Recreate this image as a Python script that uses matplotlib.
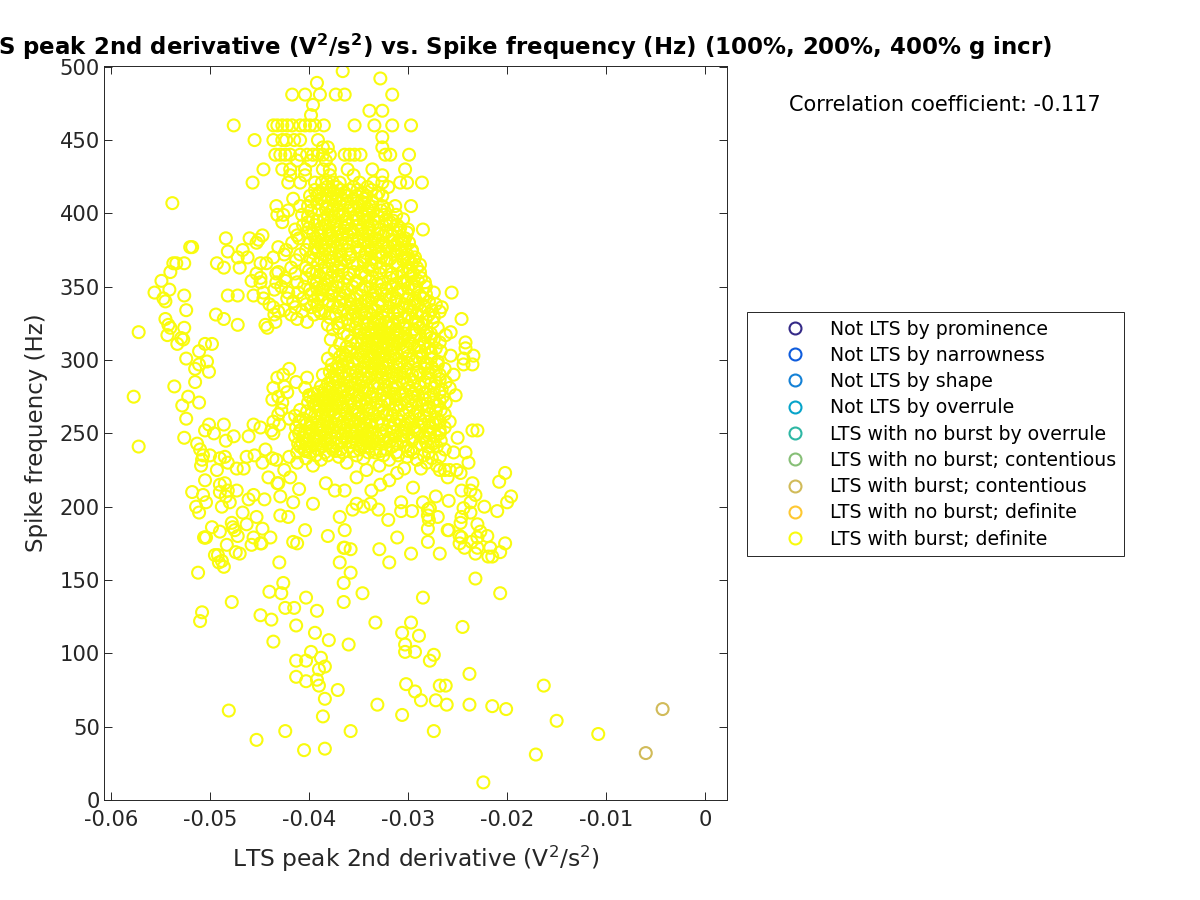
import matplotlib
matplotlib.use("Agg")
import matplotlib.pyplot as plt
from matplotlib.lines import Line2D

plt.rcParams['mathtext.fontset'] = 'dejavusans'
plt.rcParams['mathtext.default'] = 'regular'

class_labels = ['Not LTS by prominence', 'Not LTS by narrowness', 'Not LTS by shape',
                'Not LTS by overrule', 'LTS with no burst by overrule',
                'LTS with no burst; contentious', 'LTS with burst; contentious',
                'LTS with no burst; definite', 'LTS with burst; definite']
class_colors = ['#352a87', '#0f5cdd', '#1481d6', '#06a4ca', '#2eb7a4',
                '#87bf77', '#d1bb59', '#fec832', '#f9fb0e']

contentious_deriv = [-0.0043, -0.0060]
contentious_freq = [62, 32]

# (spike frequency, peak 2nd derivatives at that frequency)
low_rows = [
    (12, [-.0224]), (31, [-.0171]), (34, [-.0405]), (35, [-.0384]), (41, [-.0453]), (45, [-.0108]),
    (47, [-.0424, -.0358, -.0274]), (54, [-.0150]), (57, [-.0386]), (58, [-.0306]), (61, [-.0481]),
    (62, [-.0201]), (64, [-.0215]), (65, [-.0331, -.0261, -.0238]), (68, [-.0287, -.0272]),
    (69, [-.0384]), (74, [-.0293]), (75, [-.0371]), (78, [-.0390, -.0268, -.0262, -.0163]),
    (79, [-.0302]), (81, [-.0403]), (82, [-.0392]), (84, [-.0413]), (86, [-.0238]), (89, [-.0390]),
    (91, [-.0384]), (95, [-.0413, -.0403, -.0278]), (97, [-.0388]), (99, [-.0274]),
    (101, [-.0398, -.0303, -.0293]), (106, [-.0360, -.0303]), (108, [-.0436]), (109, [-.0380]),
    (112, [-.0289]), (114, [-.0394, -.0306]), (118, [-.0245]), (119, [-.0413]), (121, [-.0333, -.0297]),
    (122, [-.0510]), (123, [-.0438]), (126, [-.0449]), (128, [-.0508]), (129, [-.0392]),
    (131, [-.0424, -.0415]), (135, [-.0478, -.0365]), (138, [-.0403, -.0285]),
    (141, [-.0428, -.0346, -.0207]), (142, [-.0440]), (148, [-.0426, -.0365]), (151, [-.0232]),
    (155, [-.0512, -.0358]),
]
mid_rows = [
    (159, [-.0486]), (162, [-.0491, -.0430, -.0369, -.0319]), (163, [-.0488]), (166, [-.0219, -.0215]),
    (167, [-.0495, -.0492]), (168, [-.0470, -.0297, -.0268, -.0232]), (169, [-.0474, -.0207]),
    (171, [-.0329, -.0358]), (172, [-.0365, -.0364, -.0243, -.0230, -.0217]), (174, [-.0458, -.0483]),
    (175, [-.0448, -.0449, -.0412, -.0248, -.0202]), (176, [-.0416, -.0280, -.0236]),
    (179, [-.0506, -.0505, -.0504, -.0456, -.0439, -.0311, -.0230, -.0246]),
    (180, [-.0472, -.0381, -.0220, -.0248]), (183, [-.0490, -.0227]),
    (184, [-.0475, -.0404, -.0364, -.0259, -.0260]), (185, [-.0447, -.0280]), (186, [-.0498, -.0477]),
    (188, [-.0230, -.0463]), (189, [-.0478, -.0247]), (191, [-.0320, -.0279]),
    (193, [-.0453, -.0421, -.0369, -.0270, -.0246]), (194, [-.0429, -.0280]),
    (196, [-.0467, -.0511, -.0237]), (197, [-.0307, -.0296, -.0210]), (198, [-.0356, -.0330, -.0280]),
    (199, [-.0278, -.0244]), (200, [-.0514, -.0488, -.0345, -.0223]), (202, [-.0396, -.0352, -.0338]),
    (203, [-.0504, -.0480, -.0416, -.0307, -.0285, -.0237, -.0200]), (204, [-.0259]),
    (205, [-.0461, -.0445]), (207, [-.0484, -.0429, -.0272, -.0196]), (208, [-.0507, -.0456, -.0232]),
    (210, [-.0518, -.0490]), (211, [-.0482, -.0473, -.0374, -.0364, -.0337, -.0246, -.0237]),
    (212, [-.0410]), (213, [-.0295]), (215, [-.0490, -.0328]),
    (216, [-.0485, -.0432, -.0431, -.0383, -.0235]), (217, [-.0208]), (218, [-.0505, -.0319]),
    (220, [-.0441, -.0419, -.0260, -.0352]), (223, [-.0202, -.0247, -.0311]),
    (225, [-.0493, -.0268, -.0263, -.0258, -.0251, -.0425, -.0342]),
    (226, [-.0473, -.0466, -.0304, -.0287]), (228, [-.0509, -.0396, -.0329, -.0271]),
    (230, [-.0482, -.0447, -.0412, -.0362, -.0239, -.0281]),
    (232, [-.0508, -.0433, -.0388, -.0319, -.0291]), (233, [-.0490, -.0437, -.0403, -.0345, -.0276]),
    (234, [-.0485, -.0463, -.0420, -.0370, -.0301, -.0268]),
]
core_rows = [
    (235, [-.0507, -.0500, -.0455, -.0393, -.0352, -.0325, -.0381, -.0310, -.0284]),
    (237, [-.0254, -.0242, -.0412, -.0384, -.0340, -.0312, -.0279, -.0399, -.0366, -.0333, -.0295]),
    (239, [-.0510, -.0444, -.0405, -.0368, -.0333, -.0297, -.0263, -.0391, -.0376, -.0349, -.0322]),
    (241, [-.0572, -.0398, -.0378, -.0359, -.0348, -.0302, -.0280, -.0271, -.0409, -.0387, -.0339, -.0316]),
    (243, [-.0513, -.0411, -.0396, -.0388, -.0345, -.0338, -.0330, -.0311, -.0288, -.0403, -.0381, -.0372, -.0352, -.0275]),
    (245, [-.0484, -.0402, -.0390, -.0352, -.0336, -.0325, -.0305, -.0274, -.0267, -.0394, -.0383, -.0343, -.0318, -.0296]),
    (247, [-.0526, -.0406, -.0395, -.0384, -.0378, -.0372, -.0346, -.0339, -.0319, -.0296, -.0250, -.0362, -.0331, -.0284]),
    (248, [-.0476, -.0461, -.0414, -.0392, -.0366, -.0357, -.0348, -.0341, -.0313, -.0283, -.0272, -.0400, -.0325, -.0305]),
    (250, [-.0496, -.0436, -.0410, -.0399, -.0383, -.0363, -.0354, -.0327, -.0300, -.0289, -.0278, -.0371, -.0336, -.0268]),
    (252, [-.0505, -.0438, -.0409, -.0389, -.0376, -.0352, -.0345, -.0322, -.0307, -.0268, -.0235, -.0230, -.0397, -.0364, -.0293, -.0280]),
    (254, [-.0449, -.0413, -.0399, -.0381, -.0368, -.0358, -.0336, -.0316, -.0294, -.0277, -.0263, -.0392, -.0345, -.0303]),
    (256, [-.0501, -.0486, -.0456, -.0430, -.0403, -.0387, -.0373, -.0361, -.0349, -.0326, -.0303, -.0284, -.0272, -.0338, -.0313]),
    (258, [-.0436, -.0410, -.0392, -.0378, -.0366, -.0353, -.0338, -.0319, -.0296, -.0279, -.0268, -.0258, -.0357, -.0308]),
    (260, [-.0524, -.0420, -.0406, -.0384, -.0372, -.0359, -.0343, -.0329, -.0311, -.0288, -.0271, -.0350, -.0299]),
    (263, [-.0431, -.0398, -.0381, -.0369, -.0350, -.0335, -.0322, -.0305, -.0293, -.0263, -.0362, -.0388, -.0278]),
    (266, [-.0428, -.0409, -.0390, -.0376, -.0356, -.0340, -.0315, -.0299, -.0281, -.0267, -.0365, -.0384, -.0330]),
    (269, [-.0528, -.0395, -.0383, -.0372, -.0361, -.0347, -.0327, -.0308, -.0286, -.0270, -.0389, -.0377, -.0296]),
    (271, [-.0511, -.0427, -.0401, -.0386, -.0374, -.0354, -.0332, -.0318, -.0292, -.0275, -.0262, -.0380, -.0368, -.0342]),
    (273, [-.0437, -.0392, -.0380, -.0369, -.0342, -.0321, -.0304, -.0283, -.0386, -.0372, -.0312]),
    (275, [-.0522, -.0577, -.0431, -.0399, -.0383, -.0364, -.0337, -.0313, -.0296, -.0278, -.0265, -.0376, -.0350]),
    (276, [-.0252, -.0400, -.0373, -.0350, -.0327, -.0290, -.0386, -.0307]),
    (278, [-.0422, -.0391, -.0366, -.0344, -.0319, -.0306, -.0283, -.0268, -.0380, -.0357]),
    (281, [-.0436, -.0404, -.0379, -.0357, -.0330, -.0299, -.0274, -.0258, -.0370, -.0345, -.0315]),
    (282, [-.0536, -.0425, -.0388, -.0362, -.0335, -.0312, -.0288, -.0376, -.0349, -.0322]),
    (285, [-.0515, -.0413, -.0371, -.0345, -.0324, -.0294, -.0272, -.0262, -.0358, -.0306, -.0283]),
    (288, [-.0432, -.0402, -.0377, -.0351, -.0326, -.0305, -.0280, -.0365, -.0340, -.0315]),
    (290, [-.0254, -.0426, -.0386, -.0359, -.0331, -.0296, -.0268, -.0372, -.0345, -.0312, -.0288]),
    (292, [-.0501, -.0379, -.0365, -.0341, -.0317, -.0290, -.0272, -.0352, -.0329, -.0303]),
    (294, [-.0515, -.0420, -.0372, -.0347, -.0328, -.0301, -.0263, -.0358, -.0336, -.0283]),
    (297, [-.0511, -.0377, -.0355, -.0333, -.0309, -.0283, -.0235, -.0244, -.0366, -.0320, -.0270]),
    (299, [-.0503, -.0367, -.0343, -.0320, -.0293, -.0270, -.0356, -.0331, -.0306]),
    (301, [-.0524, -.0381, -.0352, -.0329, -.0312, -.0277, -.0244, -.0363, -.0340, -.0296]),
    (303, [-.0234, -.0363, -.0337, -.0324, -.0299, -.0257, -.0348, -.0314, -.0286]),
    (306, [-.0511, -.0374, -.0346, -.0318, -.0287, -.0267, -.0358, -.0332, -.0305]),
    (308, [-.0242, -.0358, -.0331, -.0315, -.0294, -.0272, -.0344, -.0322, -.0280]),
    (311, [-.0505, -.0498, -.0533, -.0369, -.0341, -.0325, -.0308, -.0283, -.0352, -.0332, -.0316, -.0296]),
    (312, [-.0242, -.0352, -.0322, -.0298, -.0268, -.0336, -.0310, -.0284]),
    (314, [-.0527, -.0378, -.0336, -.0328, -.0287, -.0345, -.0319, -.0305, -.0274]),
    (315, [-.0529, -.0347, -.0331, -.0318, -.0304, -.0277, -.0340, -.0325, -.0311]),
    (317, [-.0543, -.0361, -.0327, -.0312, -.0262, -.0338, -.0320, -.0294, -.0282]),
    (319, [-.0572, -.0257, -.0340, -.0324, -.0296, -.0281, -.0349, -.0332, -.0310]),
    (322, [-.0540, -.0526, -.0353, -.0335, -.0318, -.0270, -.0303, -.0288, -.0370, -.0442]),
    (324, [-.0542, -.0472, -.0444, -.0328, -.0304, -.0285, -.0360, -.0341, -.0315, -.0381]),
    (326, [-.0402, -.0344, -.0322, -.0292, -.0275, -.0434, -.0331, -.0309, -.0367]),
    (328, [-.0545, -.0486, -.0412, -.0361, -.0330, -.0311, -.0246, -.0296, -.0351, -.0282]),
    (331, [-.0494, -.0418, -.0338, -.0300, -.0279, -.0435, -.0373, -.0356, -.0320, -.0395]),
    (333, [-.0431, -.0407, -.0354, -.0325, -.0286, -.0268, -.0384, -.0342, -.0310]),
    (334, [-.0524, -.0425, -.0346, -.0311, -.0296, -.0390, -.0365, -.0333, -.0276]),
    (336, [-.0266, -.0414, -.0371, -.0337, -.0319, -.0283, -.0398, -.0358, -.0305, -.0436]),
    (338, [-.0440, -.0403, -.0358, -.0304, -.0272, -.0380, -.0348, -.0326, -.0290]),
    (340, [-.0545, -.0416, -.0380, -.0329, -.0293, -.0395, -.0369, -.0343, -.0312, -.0279]),
    (342, [-.0547, -.0446, -.0406, -.0366, -.0312, -.0285, -.0354, -.0336, -.0301, -.0422]),
    (344, [-.0526, -.0482, -.0472, -.0456, -.0391, -.0348, -.0322, -.0299, -.0377, -.0335, -.0288]),
    (346, [-.0556, -.0446, -.0421, -.0377, -.0333, -.0274, -.0256, -.0411, -.0364, -.0310]),
    (348, [-.0541, -.0435, -.0399, -.0361, -.0308, -.0386, -.0347, -.0327, -.0294]),
    (350, [-.0428, -.0386, -.0344, -.0317, -.0292, -.0372, -.0356, -.0405, -.0282]),
    (353, [-.0433, -.0412, -.0371, -.0326, -.0283, -.0449, -.0392, -.0352, -.0305]),
    (354, [-.0549, -.0458, -.0395, -.0352, -.0304, -.0424, -.0381, -.0339, -.0290]),
    (356, [-.0449, -.0424, -.0378, -.0336, -.0287, -.0403, -.0361, -.0318]),
    (359, [-.0453, -.0414, -.0383, -.0360, -.0316, -.0295, -.0397, -.0347, -.0329, -.0433]),
    (360, [-.0540, -.0431, -.0392, -.0347, -.0306, -.0376, -.0355, -.0288]),
    (363, [-.0486, -.0470, -.0403, -.0370, -.0328, -.0291, -.0418, -.0384, -.0340, -.0300]),
    (366, [-.0534, -.0526, -.0537, -.0493, -.0443, -.0449, -.0356, -.0313, -.0391, -.0368, -.0332, -.0296]),
    (368, [-.0396, -.0364, -.0322, -.0294, -.0413, -.0380, -.0345, -.0305]),
    (370, [-.0472, -.0462, -.0436, -.0377, -.0344, -.0305, -.0399, -.0359, -.0327, -.0293]),
    (372, [-.0409, -.0358, -.0330, -.0301, -.0425, -.0386, -.0368, -.0314]),
    (374, [-.0482, -.0391, -.0369, -.0312, -.0349, -.0337, -.0322, -.0296]),
    (375, [-.0467, -.0423, -.0384, -.0338, -.0296, -.0403, -.0361, -.0307, -.0376]),
    (377, [-.0518, -.0520, -.0431, -.0373, -.0352, -.0320, -.0394, -.0332, -.0303]),
    (380, [-.0453, -.0400, -.0362, -.0325, -.0382, -.0344, -.0311, -.0417, -.0299]),
    (382, [-.0451, -.0386, -.0345, -.0307, -.0371, -.0356, -.0330, -.0316]),
    (383, [-.0484, -.0460, -.0394, -.0366, -.0333, -.0410, -.0378, -.0350, -.0303]),
    (385, [-.0447, -.0412, -.0378, -.0340, -.0316, -.0388, -.0361, -.0325]),
    (387, [-.0388, -.0355, -.0322, -.0301, -.0402, -.0371, -.0340, -.0309]),
    (389, [-.0414, -.0300, -.0285, -.0372, -.0347, -.0329, -.0380, -.0358, -.0315]),
    (392, [-.0406, -.0384, -.0361, -.0311, -.0394, -.0372, -.0350, -.0336, -.0322]),
    (394, [-.0427, -.0375, -.0341, -.0318, -.0401, -.0363, -.0330]),
    (396, [-.0396, -.0363, -.0335, -.0305, -.0385, -.0350, -.0322]),
    (399, [-.0432, -.0426, -.0381, -.0352, -.0324, -.0407, -.0370, -.0340, -.0312]),
    (402, [-.0421, -.0390, -.0370, -.0347, -.0398, -.0360, -.0335, -.0327]),
    (405, [-.0433, -.0409, -.0401, -.0382, -.0375, -.0357, -.0349, -.0339, -.0326, -.0313, -.0297]),
    (407, [-.0538, -.0369, -.0362, -.0344, -.0392, -.0352]),
    (410, [-.0416, -.0388, -.0355, -.0367, -.0344, -.0377]),
    (412, [-.0399, -.0392, -.0382, -.0372, -.0362, -.0352, -.0342, -.0332, -.0326]),
    (416, [-.0386, -.0368, -.0351, -.0337, -.0394, -.0378, -.0359]),
]
# second pass over the solid parts of the cloud
dense_rows = [
    (238, [-.0404, -.0373, -.0355, -.0328, -.0300]), (244, [-.0407, -.0367, -.0357, -.0322, -.0282]),
    (251, [-.0404, -.0386, -.0358, -.0341, -.0315, -.0291]), (257, [-.0397, -.0381, -.0344, -.0331, -.0300, -.0275]),
    (262, [-.0414, -.0394, -.0375, -.0346, -.0316, -.0284]), (265, [-.0402, -.0379, -.0353, -.0325, -.0290, -.0272]),
    (268, [-.0393, -.0366, -.0338, -.0312, -.0279]), (272, [-.0396, -.0358, -.0349, -.0324, -.0300, -.0268]),
    (277, [-.0395, -.0360, -.0336, -.0314, -.0295, -.0274]), (280, [-.0384, -.0365, -.0340, -.0325, -.0292, -.0266]),
    (284, [-.0381, -.0353, -.0331, -.0301, -.0277]), (287, [-.0373, -.0347, -.0320, -.0297, -.0268]),
    (291, [-.0367, -.0337, -.0322, -.0308, -.0280]), (295, [-.0370, -.0344, -.0325, -.0311, -.0276]),
    (298, [-.0361, -.0340, -.0326, -.0300, -.0281]), (302, [-.0369, -.0345, -.0334, -.0318, -.0291]),
    (305, [-.0366, -.0351, -.0327, -.0312, -.0277]), (309, [-.0362, -.0337, -.0326, -.0302, -.0289]),
    (313, [-.0358, -.0341, -.0330, -.0315, -.0300]), (318, [-.0365, -.0344, -.0326, -.0303, -.0277]),
    (321, [-.0376, -.0348, -.0328, -.0312, -.0294]), (325, [-.0371, -.0352, -.0335, -.0320, -.0290]),
    (329, [-.0379, -.0343, -.0325, -.0304, -.0274]), (332, [-.0388, -.0361, -.0347, -.0315, -.0291]),
    (337, [-.0392, -.0376, -.0352, -.0330, -.0298]), (341, [-.0386, -.0358, -.0340, -.0318, -.0295]),
    (345, [-.0398, -.0369, -.0352, -.0316, -.0282]), (349, [-.0392, -.0378, -.0338, -.0322, -.0300]),
    (352, [-.0384, -.0365, -.0331, -.0312, -.0296]), (357, [-.0389, -.0370, -.0343, -.0311, -.0297]),
    (361, [-.0400, -.0366, -.0336, -.0322, -.0298]), (365, [-.0376, -.0351, -.0337, -.0310, -.0288]),
    (369, [-.0388, -.0372, -.0337, -.0318, -.0300]), (373, [-.0395, -.0378, -.0343, -.0327, -.0306]),
    (378, [-.0388, -.0367, -.0340, -.0327, -.0314]), (381, [-.0392, -.0375, -.0351, -.0337, -.0305]),
    (386, [-.0396, -.0380, -.0366, -.0346, -.0331]), (390, [-.0400, -.0388, -.0364, -.0339, -.0308]),
    (395, [-.0392, -.0378, -.0356, -.0344, -.0315]), (398, [-.0401, -.0375, -.0366, -.0345, -.0330]),
    (403, [-.0383, -.0376, -.0355, -.0341, -.0321]), (408, [-.0398, -.0384, -.0373, -.0347, -.0336]),
    (414, [-.0390, -.0375, -.0364, -.0346, -.0330]), (418, [-.0382, -.0372, -.0355, -.0341, -.0320]),
]
top_rows = [
    (421, [-.0457, -.0421, -.0409, -.0394, -.0387, -.0382, -.0376, -.0369, -.0349, -.0335, -.0326, -.0308, -.0301, -.0286]),
    (426, [-.0419, -.0404, -.0379, -.0355, -.0326]),
    (430, [-.0446, -.0427, -.0419, -.0404, -.0386, -.0379, -.0361, -.0336, -.0303]),
    (436, [-.0412, -.0398, -.0383]),
    (440, [-.0434, -.0429, -.0424, -.0419, -.0409, -.0402, -.0396, -.0391, -.0386, -.0379, -.0364, -.0359, -.0354, -.0348, -.0323, -.0318, -.0299]),
    (445, [-.0386, -.0381, -.0326]),
    (450, [-.0455, -.0436, -.0427, -.0423, -.0415, -.0409, -.0391]),
    (452, [-.0326]),
    (460, [-.0476, -.0436, -.0432, -.0427, -.0422, -.0417, -.0409, -.0404, -.0399, -.0394, -.0385, -.0354, -.0334, -.0316, -.0297]),
    (467, [-.0398]), (470, [-.0339, -.0326]), (474, [-.0396]),
    (481, [-.0417, -.0404, -.0389, -.0373, -.0364, -.0316]),
    (489, [-.0392]), (492, [-.0328]), (497, [-.0366]),
]

deriv_burst = []
freq_burst = []
for f, row in low_rows + mid_rows + core_rows + dense_rows + top_rows:
    deriv_burst += row
    freq_burst += [f] * len(row)

fig = plt.figure(figsize=(12, 9), dpi=100)
ax = fig.add_axes([104 / 1200, 1 - 800 / 900, 623 / 1200, 734 / 900])

ax.scatter(deriv_burst, freq_burst, s=74, facecolors='none',
           edgecolors=class_colors[8], linewidths=1.5, zorder=2)
ax.scatter(contentious_deriv, contentious_freq, s=74, facecolors='none',
           edgecolors=class_colors[6], linewidths=1.5, zorder=3)

ax.set_xlim(-0.0607, 0.0022)
ax.set_ylim(0, 500.5)
ax.set_xticks([-0.06, -0.05, -0.04, -0.03, -0.02, -0.01, 0])
ax.set_xticklabels(['-0.06', '-0.05', '-0.04', '-0.03', '-0.02', '-0.01', '0'])
ax.set_yticks(range(0, 501, 50))
ax.tick_params(direction='in', top=True, right=True, length=5.5, width=0.7,
               labelsize=15.2, colors='#262626')
ax.tick_params(axis='x', pad=7)
ax.tick_params(axis='y', pad=3)
for s in ax.spines.values():
    s.set_linewidth(0.7)
    s.set_color('#262626')

ax.set_xlabel(r'LTS peak 2nd derivative (V$^2$/s$^2$)', fontsize=16.8, color='#262626', labelpad=10)
ax.set_ylabel('Spike frequency (Hz)', fontsize=16.5, color='#262626', labelpad=8.5)

fig.text(1052 / 1200, 1 - 55 / 900,
         r'LTS peak 2nd derivative (V$^{\mathbf{2}}$/s$^{\mathbf{2}}$) vs. Spike frequency (Hz) (100%, 200%, 400% g incr)',
         ha='right', va='baseline', fontsize=16.5, fontweight='bold', color='k')
fig.text(789 / 1200, 1 - 105 / 900, 'Correlation coefficient: -0.117',
         ha='left', va='center', fontsize=15, color='k')

handles = [Line2D([], [], linestyle='none', marker='o', markersize=8.6, markerfacecolor='none',
                  markeredgecolor=c, markeredgewidth=1.5) for c in class_colors]
leg = fig.legend(handles, class_labels, loc='upper left',
                 bbox_to_anchor=(747 / 1200, 1 - 312 / 900), bbox_transform=fig.transFigure,
                 borderaxespad=0, fontsize=13.6, fancybox=False, framealpha=1, numpoints=1,
                 edgecolor='#262626', labelspacing=0.385, handletextpad=-0.23,
                 handlelength=4.25, borderpad=0.4)
leg.get_frame().set_linewidth(0.7)

fig.savefig('out.png', dpi=100)
